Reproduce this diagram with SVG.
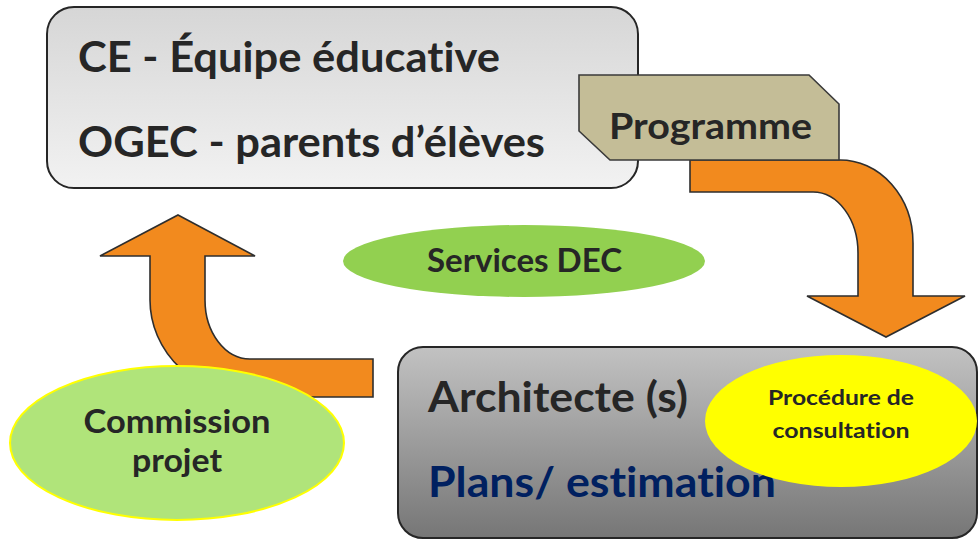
<svg xmlns="http://www.w3.org/2000/svg" width="978" height="539" viewBox="0 0 978 539">
<defs>
<linearGradient id="gTop" x1="0" y1="0" x2="0" y2="1">
<stop offset="0" stop-color="#d6d6d6"/>
<stop offset="1" stop-color="#f2f2f2"/>
</linearGradient>
<linearGradient id="gBot" x1="0" y1="0" x2="0" y2="1">
<stop offset="0" stop-color="#c2c2c2"/>
<stop offset="1" stop-color="#767676"/>
</linearGradient>
<style>
.t{font-family:Lato,"Open Sans","Liberation Sans",sans-serif;font-weight:700;fill:#262626;font-variant-ligatures:none}
.box{stroke:#262626;stroke-width:2}
.arrow{fill:#f28a1e;stroke:#2e2e2e;stroke-width:1.6;stroke-linejoin:miter}
</style>
</defs>
<rect width="978" height="539" fill="#ffffff"/>

<g id="equipe">
<rect class="box" x="47" y="7" width="591" height="181" rx="27" fill="url(#gTop)"/>
<text class="t" x="78" y="72" font-size="42" textLength="422" lengthAdjust="spacingAndGlyphs">CE - Équipe éducative</text>
<text class="t" x="78" y="157" font-size="42" textLength="467" lengthAdjust="spacingAndGlyphs">OGEC - parents d’élèves</text>
</g>

<g id="connectors">
<path class="arrow" d="M 690 160 L 840 160 A 73 83 0 0 1 913 243 L 913 296 L 965 296 L 886 337 L 807 296 L 858 296 L 858 253 A 45 61 0 0 0 813 192 L 690 192 Z"/>
<path class="arrow" d="M 178 215 L 255 256 L 205 256 L 205 300 A 45 59 0 0 0 250 359 L 373 359 L 373 397 L 255 397 A 105 97 0 0 1 150 300 L 150 256 L 100 256 Z"/>
</g>

<g id="programme">
<polygon points="579,75 809,75 839,104 839,160 610,160 579,131" fill="#c4bd97" stroke="#3a3a3a" stroke-width="1.6"/>
<text class="t" x="609" y="139" font-size="37" textLength="203" lengthAdjust="spacingAndGlyphs">Programme</text>
</g>

<g id="services">
<ellipse cx="524" cy="261" rx="181" ry="36" fill="#92d050"/>
<text class="t" x="427" y="272" font-size="32" textLength="195" lengthAdjust="spacingAndGlyphs">Services DEC</text>
</g>

<g id="commission">
<ellipse cx="177" cy="443" rx="167" ry="77" fill="#b0e47a" stroke="#ffff00" stroke-width="2"/>
<text class="t" x="177" y="433" font-size="32" text-anchor="middle" textLength="187" lengthAdjust="spacingAndGlyphs">Commission</text>
<text class="t" x="177" y="472" font-size="32" text-anchor="middle" textLength="90" lengthAdjust="spacingAndGlyphs">projet</text>
</g>

<g id="architecte">
<rect class="box" x="398" y="347" width="579" height="191" rx="25" fill="url(#gBot)"/>
<text class="t" x="428" y="412" font-size="42" textLength="260" lengthAdjust="spacingAndGlyphs">Architecte (s)</text>
<text class="t" x="428" y="497" font-size="42" style="fill:#002060" textLength="348" lengthAdjust="spacingAndGlyphs">Plans/ estimation</text>
</g>

<g id="procedure">
<ellipse cx="841" cy="421" rx="136" ry="66" fill="#ffff00"/>
<text class="t" x="841" y="405" font-size="20" text-anchor="middle" textLength="146" lengthAdjust="spacingAndGlyphs">Procédure de</text>
<text class="t" x="841" y="438" font-size="20" text-anchor="middle" textLength="137" lengthAdjust="spacingAndGlyphs">consultation</text>
</g>
</svg>
